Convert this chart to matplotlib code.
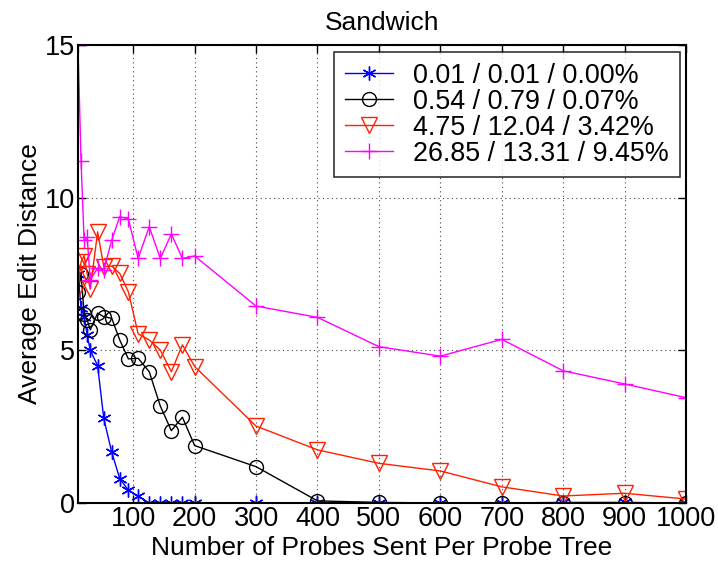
import numpy as np
import matplotlib.pyplot as plt

plt.rcParams['font.family'] = ['Liberation Sans', 'DejaVu Sans']

# probes sent per probe tree
probes = [10, 15, 20, 25, 30, 42, 52, 65, 78, 92, 108, 126, 144, 162, 180, 200,
          300, 400, 500, 600, 700, 800, 900, 1000]

# average edit distance for each setting
dist_a = [7.5, 6.4, 6.1, 5.5, 5.0, 4.5, 2.77, 1.66, 0.8, 0.42, 0.23, 0.0, 0.0, 0.0, 0.0, 0.0,
          0.0, 0.0, 0.0, 0.0, 0.0, 0.02, 0.02, 0.0]
dist_b = [6.9, 7.5, 6.2, 6.0, 5.67, 6.22, 6.1, 6.05, 5.34, 4.72, 4.74, 4.3, 3.18, 2.37, 2.81, 1.88,
          1.19, 0.07, 0.02, 0.0, 0.0, 0.0, 0.0, 0.0]
dist_c = [7.0, 7.9, 8.1, 7.5, 7.0, 8.88, 7.74, 7.76, 7.52, 6.92, 5.54, 5.34, 5.01, 4.3, 5.18, 4.47,
          2.52, 1.74, 1.3, 1.05, 0.53, 0.23, 0.32, 0.13]
dist_d = [15.0, 11.2, 8.6, 8.7, 7.3, 7.7, 7.63, 8.61, 9.38, 9.3, 8.01, 9.05, 8.01, 8.81, 8.01, 8.09,
          6.45, 6.08, 5.12, 4.81, 5.36, 4.33, 3.9, 3.45]

labels = ['0.01 / 0.01 / 0.00%', '0.54 / 0.79 / 0.07%',
          '4.75 / 12.04 / 3.42%', '26.85 / 13.31 / 9.45%']
xticks = [100, 200, 300, 400, 500, 600, 700, 800, 900, 1000]
yticks = [0, 5, 10, 15]

fig = plt.figure(figsize=(7.18, 5.65), dpi=100)
ax = fig.add_axes([0.1086, 0.1097, 0.8468, 0.8107])

ax.plot(probes, dist_a, color='#0000ff', lw=1.0, marker=(6, 2, 0), ms=10,
        mew=1.0, label=labels[0])
ax.plot(probes, dist_b, color='black', lw=1.0, marker='o', ms=10,
        mfc='none', mew=1.0, label=labels[1])
ax.plot(probes, dist_c, color='#ff2000', lw=1.0, marker='v', ms=11,
        mfc='none', mew=1.0, label=labels[2])
ax.plot(probes, dist_d, color='#ff00ff', lw=1.0, marker='+', ms=11,
        mew=1.0, label=labels[3])

ax.set_xlim(10, 1000)
ax.set_ylim(0, 15)
ax.set_xticks(xticks)
ax.set_yticks(yticks)
ax.tick_params(direction='in', top=True, right=True, length=6, width=1.0,
               labelsize=19.5, pad=2)
ax.grid(True, linestyle=(0, (1, 3)), color='#444444', linewidth=0.8)
for s in ax.spines.values():
    s.set_linewidth(1.5)

ax.set_title('Sandwich', fontsize=19, pad=11)
ax.set_xlabel('Number of Probes Sent Per Probe Tree', fontsize=19, labelpad=3)
ax.set_ylabel('Average Edit Distance', fontsize=19, labelpad=2)

leg = ax.legend(loc='upper right', bbox_to_anchor=(0.99, 0.985), fontsize=19.4,
                frameon=True, fancybox=False, edgecolor='black',
                handlelength=1.8, handletextpad=0.75, borderpad=0.4,
                labelspacing=0.0, borderaxespad=0)
leg.get_frame().set_linewidth(1.2)

fig.savefig('out.png', dpi=100)
